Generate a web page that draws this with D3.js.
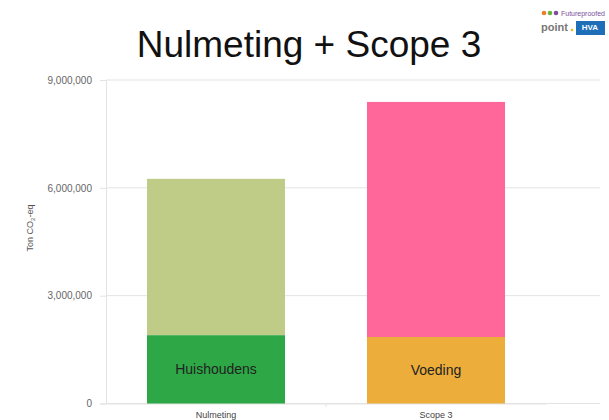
<!DOCTYPE html>
<html><head><meta charset="utf-8">
<script src="https://cdn.jsdelivr.net/npm/d3@7"></script>
<style>body{margin:0;background:#fff;} svg{display:block;}</style>
</head><body>
<svg id="c" width="609" height="420"></svg>
<script>
const categories = ["Nulmeting", "Scope 3"];
const baseLabels = ["Huishoudens", "Voeding"];
const baseValues = [1900000, 1850000];
const topValues = [4350000, 6540000];
const baseColors = ["#2EA846", "#ECAD3A"];
const topColors = ["#BECC88", "#FF6699"];
const yTicks = [0, 3000000, 6000000, 9000000];

const svg = d3.select("#c");
const x = d3.scaleBand().domain(categories).range([106, 546]).paddingInner(0.3727).paddingOuter(0.1864);
const y = d3.scaleLinear().domain([0, 9000000]).range([403.5, 80]);

// gridlines
svg.append("g").selectAll("line").data(yTicks).join("line")
  .attr("x1", 106).attr("x2", 600)
  .attr("y1", d => y(d)).attr("y2", d => y(d))
  .attr("stroke", "#e3e3e3").attr("stroke-width", 1);

// y axis
const yAxis = d3.axisLeft(y).tickValues(yTicks).tickFormat(d3.format(",")).tickSize(6).tickPadding(8);
const gy = svg.append("g").attr("transform", "translate(106,0)").call(yAxis);
gy.select(".domain").attr("stroke", "#e3e3e3");
gy.selectAll(".tick line").attr("stroke", "#e3e3e3");
gy.selectAll("text").attr("fill", "#666").style("font-family", "Liberation Sans, Arial, sans-serif").style("font-size", "10px");

// x axis
const xAxis = d3.axisBottom(x).tickSize(0).tickPadding(8);
const gx = svg.append("g").attr("transform", "translate(0,403.5)").call(xAxis);
gx.select(".domain").attr("stroke", "#e3e3e3");
gx.selectAll("text").attr("fill", "#444").style("font-family", "Liberation Sans, Arial, sans-serif").style("font-size", "9px");
// divider tick between categories
svg.append("line").attr("x1", 326).attr("x2", 326).attr("y1", 403.5).attr("y2", 407).attr("stroke", "#e3e3e3");

// bars
const data = categories.map((c, i) => ({c, b: baseValues[i], t: topValues[i], i}));
svg.append("g").selectAll("rect.top").data(data).join("rect")
  .attr("x", d => x(d.c)).attr("width", x.bandwidth())
  .attr("y", d => y(d.b + d.t)).attr("height", d => y(d.b) - y(d.b + d.t))
  .attr("fill", d => topColors[d.i]);
svg.append("g").selectAll("rect.base").data(data).join("rect")
  .attr("x", d => x(d.c)).attr("width", x.bandwidth())
  .attr("y", d => y(d.b)).attr("height", d => y(0) - y(d.b))
  .attr("fill", d => baseColors[d.i]);
svg.append("g").selectAll("text").data(data).join("text")
  .attr("x", d => x(d.c) + x.bandwidth() / 2)
  .attr("y", d => y(d.b / 2) + 5)
  .attr("text-anchor", "middle")
  .attr("fill", "#222")
  .style("font-family", "Liberation Sans, Arial, sans-serif").style("font-size", "14px")
  .text((d, i) => baseLabels[i]);

// y label
svg.append("text").attr("transform", "translate(33,228) rotate(-90)")
  .attr("text-anchor", "middle").attr("fill", "#555")
  .style("font-family", "Liberation Sans, Arial, sans-serif").style("font-size", "9px")
  .html('Ton CO<tspan font-size="6" dy="2">2</tspan><tspan dy="-2">-eq</tspan>');

// title
svg.append("text").attr("x", 309).attr("y", 57).attr("text-anchor", "middle")
  .attr("fill", "#111")
  .style("font-family", "Liberation Sans, Arial, sans-serif").style("font-size", "37px")
  .text("Nulmeting + Scope 3");

// logo
const lg = svg.append("g");
[["#F07D28", 544], ["#6DB33F", 550], ["#7B4F9D", 556]].forEach(([c, cx]) =>
  lg.append("circle").attr("cx", cx).attr("cy", 13).attr("r", 2.3).attr("fill", c));
lg.append("text").attr("x", 561).attr("y", 16).attr("fill", "#7B4F9D")
  .style("font-family", "Liberation Sans, Arial, sans-serif").style("font-size", "7px").text("Futureproofed");
lg.append("text").attr("x", 541).attr("y", 31).attr("fill", "#777")
  .style("font-family", "Liberation Sans, Arial, sans-serif").style("font-size", "11px").style("font-weight", "bold").text("point");
lg.append("circle").attr("cx", 572).attr("cy", 30).attr("r", 1.3).attr("fill", "#F0B323");
lg.append("rect").attr("x", 576).attr("y", 21).attr("width", 29).attr("height", 14).attr("fill", "#1E6FB8");
lg.append("text").attr("x", 590).attr("y", 30).attr("text-anchor", "middle").attr("fill", "#fff")
  .style("font-family", "Liberation Sans, Arial, sans-serif").style("font-size", "8px").style("font-weight", "bold").text("HVA");
</script>
</body></html>
